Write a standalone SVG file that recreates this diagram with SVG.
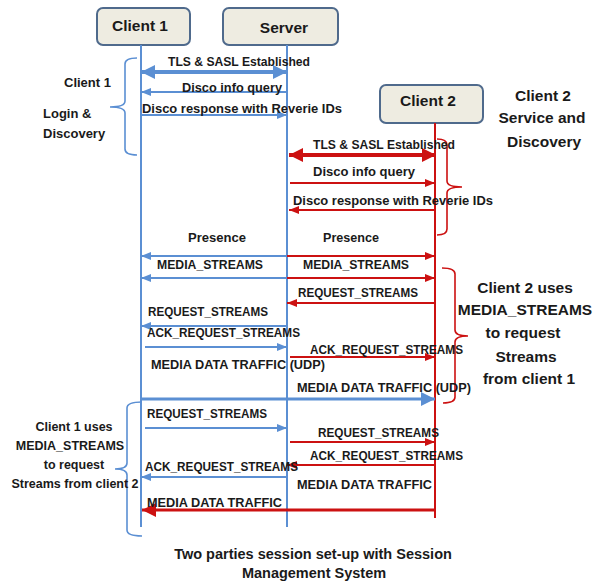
<svg xmlns="http://www.w3.org/2000/svg" width="594" height="584" viewBox="0 0 594 584">
<style>
text{font-family:"Liberation Sans",Arial,sans-serif;font-weight:bold;fill:#1a1a1a}
.m{font-size:12px}
.h{font-size:15.5px}
.a{font-size:15.5px;text-anchor:middle}
.s{font-size:13px}
.c{font-size:12.5px;text-anchor:middle}
.cap{font-size:14.5px;text-anchor:middle}
.box{fill:#eeece1;stroke:#4f6a8c;stroke-width:2}
.lb{stroke:#5b8fd3;stroke-width:2;fill:none}
.lr{stroke:#cc1111;stroke-width:2;fill:none}
.br{fill:none;stroke-width:1.6}
</style>
<defs>
<marker id="ab" markerUnits="userSpaceOnUse" markerWidth="10" markerHeight="8" refX="10" refY="4" orient="auto-start-reverse"><path d="M0,0L10,4L0,8z" fill="#5b8fd3"/></marker>
<marker id="ar" markerUnits="userSpaceOnUse" markerWidth="10" markerHeight="8" refX="10" refY="4" orient="auto-start-reverse"><path d="M0,0L10,4L0,8z" fill="#cc1111"/></marker>
<marker id="abB" markerUnits="userSpaceOnUse" markerWidth="14" markerHeight="14" refX="14" refY="7" orient="auto-start-reverse"><path d="M0,0L14,7L0,14z" fill="#5b8fd3"/></marker>
<marker id="arB" markerUnits="userSpaceOnUse" markerWidth="14" markerHeight="14" refX="14" refY="7" orient="auto-start-reverse"><path d="M0,0L14,7L0,14z" fill="#cc1111"/></marker>
</defs>

<g id="client1">
<rect class="box" x="97" y="8" width="93" height="37" rx="6"/>
<text class="h" x="140" y="31" text-anchor="middle">Client 1</text>
<line class="lb" x1="141" y1="45" x2="141" y2="527"/>
</g>
<g id="server">
<rect class="box" x="223" y="8" width="115" height="37" rx="6"/>
<text class="h" x="284" y="33" text-anchor="middle">Server</text>
<line class="lb" x1="287" y1="45" x2="287" y2="527"/>
</g>
<g id="client2">
<rect class="box" x="380" y="85" width="103" height="38" rx="6"/>
<text class="h" x="428" y="106" text-anchor="middle">Client 2</text>
<line class="lr" x1="435" y1="123" x2="435" y2="518"/>
</g>

<g id="annotations">
<path class="br" stroke="#5b8fd3" d="M137,58 Q125,58 125,64 L125,101 Q125,107 110,107 Q125,107 125,113 L125,149 Q125,155 137,155"/>
<text class="s" x="64" y="87">Client 1</text>
<text class="s" x="43" y="118">Login  &amp;</text>
<text class="s" x="43" y="138">Discovery</text>

<path class="br" stroke="#cc1111" d="M437,139 Q447,139 447,145 L447,181 Q447,187 462,187 Q447,187 447,193 L447,229 Q447,235 437,235"/>
<text class="a" x="543" y="101">Client 2</text>
<text class="a" x="542" y="123">Service and</text>
<text class="a" x="544" y="147">Discovery</text>

<path class="br" stroke="#cc1111" d="M442,268 Q455,268 455,274 L455,330 Q455,336 468,336 Q455,336 455,342 L455,397 Q455,403 443,403"/>
<text class="a" x="525" y="293">Client 2 uses</text>
<text class="a" x="525" y="315">MEDIA_STREAMS</text>
<text class="a" x="523" y="338">to request</text>
<text class="a" x="526" y="362">Streams</text>
<text class="a" x="529" y="384">from client 1</text>

<path class="br" stroke="#5b8fd3" d="M142,402 Q127,402 127,408 L127,463 Q127,469 115,469 Q127,469 127,475 L127,530 Q127,536 142,536"/>
<text class="c" x="74" y="431">Client 1 uses</text>
<text class="c" x="70" y="450">MEDIA_STREAMS</text>
<text class="c" x="74" y="469">to request</text>
<text class="c" x="75" y="488">Streams from client 2</text>

<text class="cap" x="313" y="559">Two parties session set-up with Session</text>
<text class="cap" x="314" y="578">Management System</text>
</g>

<g id="connectors">
<line stroke="#5b8fd3" stroke-width="4" x1="141" y1="72" x2="287" y2="72" marker-start="url(#abB)" marker-end="url(#abB)"/>
<line class="lb" x1="287" y1="92" x2="141" y2="92" marker-end="url(#ab)"/>
<line class="lb" x1="141" y1="115" x2="287" y2="115" marker-end="url(#ab)"/>
<line stroke="#cc1111" stroke-width="4" x1="289" y1="155" x2="436" y2="155" marker-start="url(#arB)" marker-end="url(#arB)"/>
<line class="lr" x1="290" y1="183" x2="435" y2="183" marker-end="url(#ar)"/>
<line class="lr" x1="435" y1="210" x2="289" y2="210" marker-end="url(#ar)"/>
<line class="lb" x1="287" y1="256" x2="141" y2="256" marker-end="url(#ab)"/>
<line class="lr" x1="287" y1="256" x2="435" y2="256" marker-end="url(#ar)"/>
<line class="lb" x1="287" y1="278" x2="141" y2="278" marker-end="url(#ab)"/>
<line class="lr" x1="287" y1="278" x2="435" y2="278" marker-end="url(#ar)"/>
<line class="lr" x1="435" y1="303" x2="287" y2="303" marker-end="url(#ar)"/>
<line class="lb" x1="287" y1="326" x2="141" y2="326" marker-end="url(#ab)"/>
<line class="lb" x1="145" y1="347" x2="287" y2="347" marker-end="url(#ab)"/>
<line class="lr" x1="290" y1="357" x2="435" y2="357" marker-end="url(#ar)"/>
<line stroke="#5b8fd3" stroke-width="3" x1="142" y1="399" x2="435" y2="399" marker-end="url(#abB)"/>
<line class="lb" x1="145" y1="428" x2="287" y2="428" marker-end="url(#ab)"/>
<line class="lr" x1="290" y1="442" x2="435" y2="442" marker-end="url(#ar)"/>
<line class="lr" x1="435" y1="465" x2="287" y2="465" marker-end="url(#ar)"/>
<line class="lb" x1="287" y1="477" x2="141" y2="477" marker-end="url(#ab)"/>
<line stroke="#cc1111" stroke-width="3" x1="435" y1="510" x2="142" y2="510" marker-end="url(#arB)"/>
</g>

<g id="labels">
<text class="m" x="168" y="66" textLength="142" lengthAdjust="spacingAndGlyphs">TLS &amp; SASL Established</text>
<text class="m" x="182" y="92" textLength="100" lengthAdjust="spacingAndGlyphs">Disco  info query</text>
<text class="m" x="142" y="113" textLength="200" lengthAdjust="spacingAndGlyphs">Disco  response with Reverie IDs</text>
<text class="m" x="313" y="149" textLength="142" lengthAdjust="spacingAndGlyphs">TLS &amp; SASL Established</text>
<text class="m" x="313" y="176" textLength="102" lengthAdjust="spacingAndGlyphs">Disco  info query</text>
<text class="m" x="293" y="205" textLength="200" lengthAdjust="spacingAndGlyphs">Disco  response with Reverie IDs</text>
<text class="m" x="188" y="242" textLength="58" lengthAdjust="spacingAndGlyphs">Presence</text>
<text class="m" x="323" y="242" textLength="56" lengthAdjust="spacingAndGlyphs">Presence</text>
<text class="m" x="157" y="269" textLength="106" lengthAdjust="spacingAndGlyphs">MEDIA_STREAMS</text>
<text class="m" x="303" y="269" textLength="106" lengthAdjust="spacingAndGlyphs">MEDIA_STREAMS</text>
<text class="m" x="298" y="297" textLength="120" lengthAdjust="spacingAndGlyphs">REQUEST_STREAMS</text>
<text class="m" x="148" y="316" textLength="120" lengthAdjust="spacingAndGlyphs">REQUEST_STREAMS</text>
<text class="m" x="147" y="337" textLength="153" lengthAdjust="spacingAndGlyphs">ACK_REQUEST_STREAMS</text>
<text class="m" x="310" y="354" textLength="153" lengthAdjust="spacingAndGlyphs">ACK_REQUEST_STREAMS</text>
<text class="m" x="151" y="369" textLength="174" lengthAdjust="spacingAndGlyphs">MEDIA  DATA TRAFFIC (UDP)</text>
<text class="m" x="297" y="392" textLength="174" lengthAdjust="spacingAndGlyphs">MEDIA  DATA TRAFFIC (UDP)</text>
<text class="m" x="147" y="418" textLength="120" lengthAdjust="spacingAndGlyphs">REQUEST_STREAMS</text>
<text class="m" x="318" y="437" textLength="121" lengthAdjust="spacingAndGlyphs">REQUEST_STREAMS</text>
<text class="m" x="310" y="460" textLength="153" lengthAdjust="spacingAndGlyphs">ACK_REQUEST_STREAMS</text>
<text class="m" x="145" y="471" textLength="153" lengthAdjust="spacingAndGlyphs">ACK_REQUEST_STREAMS</text>
<text class="m" x="297" y="489" textLength="135" lengthAdjust="spacingAndGlyphs">MEDIA  DATA TRAFFIC</text>
<text class="m" x="147" y="507" textLength="135" lengthAdjust="spacingAndGlyphs">MEDIA  DATA TRAFFIC</text>
</g>
</svg>
